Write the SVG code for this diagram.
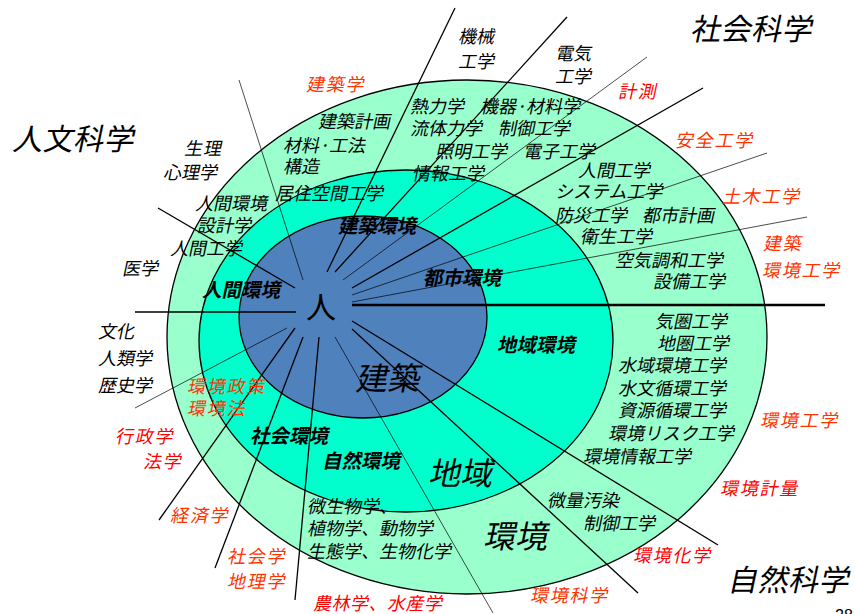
<svg xmlns="http://www.w3.org/2000/svg" width="855" height="614" viewBox="0 0 855 614">
<style>
text{font-family:"Noto Sans CJK JP","Noto Sans CJK SC",sans-serif;font-size:18px;fill:#000}
.r{fill:#FF0000;letter-spacing:1.8px}
.o{fill:#FF3300;letter-spacing:1.8px}
.b{font-weight:bold;font-size:19.5px}
.big{font-size:32px}
.huge{font-size:30px;letter-spacing:0.5px}
.ring{stroke:#000;stroke-width:1.3}
.l{stroke:#000;stroke-width:1.3;fill:none}
.th{stroke:#000;stroke-width:0.7;fill:none}
.k{stroke:#000;stroke-width:2.6;fill:none}
</style>
<rect width="855" height="614" fill="#fff"/>
<g id="ring-outer"><ellipse class="ring" cx="467" cy="337" rx="300" ry="257" fill="#99FFCC"/></g>
<g id="ring-middle"><ellipse class="ring" cx="406" cy="341" rx="207" ry="171" fill="#00FFCC"/></g>
<g id="ring-inner"><ellipse class="ring" cx="363" cy="317" rx="124" ry="101" fill="#4F81BD"/></g>
<g id="connectors">
<line class="th" x1="303" y1="280" x2="239" y2="80"/>
<line class="l" x1="295" y1="288" x2="158" y2="208"/>
<line class="l" x1="327" y1="272" x2="455" y2="8"/>
<line class="l" x1="335" y1="272" x2="567" y2="17"/>
<line class="th" x1="343" y1="280" x2="647" y2="57"/>
<line class="l" x1="352" y1="288" x2="703" y2="88"/>
<line class="th" x1="352" y1="295" x2="767" y2="153"/>
<line class="th" x1="352" y1="302" x2="807" y2="217"/>
<line class="k" x1="352" y1="305" x2="825" y2="305"/>
<line class="l" x1="296" y1="312" x2="135" y2="312"/>
<line class="th" x1="287" y1="328" x2="135" y2="408"/>
<line class="l" x1="295" y1="328" x2="159" y2="520"/>
<line class="l" x1="303" y1="337" x2="215" y2="568"/>
<line class="l" x1="319" y1="337" x2="295" y2="600"/>
<line class="th" x1="335" y1="337" x2="493" y2="613"/>
<line class="l" x1="352" y1="329" x2="638" y2="593"/>
<line class="l" x1="352" y1="321" x2="718" y2="545"/>
</g>
<g id="fields">
<text class="huge" transform="translate(12 150) skewX(-12)">人文科学</text>
<text class="huge" transform="translate(690 40) skewX(-12)">社会科学</text>
<text class="huge" transform="translate(727 591) skewX(-12)">自然科学</text>
<text x="835" y="621" style="font-family:'Liberation Sans',sans-serif;font-size:16px">28</text>
</g>
<g id="center">
<text x="306" y="318" style="font-size:30px">人</text>
<text class="big" transform="translate(355 390) skewX(-12)">建築</text>
<text class="big" transform="translate(428 485) skewX(-12)">地域</text>
<text class="big" transform="translate(483 548) skewX(-12)">環境</text>
</g>
<g id="environments">
<text class="b" transform="translate(338 233) skewX(-12)">建築環境</text>
<text class="b" transform="translate(423 285) skewX(-12)">都市環境</text>
<text class="b" transform="translate(202 297) skewX(-12)">人間環境</text>
<text class="b" transform="translate(497 352) skewX(-12)">地域環境</text>
<text class="b" transform="translate(250 443) skewX(-12)">社会環境</text>
<text class="b" transform="translate(322 468) skewX(-12)">自然環境</text>
</g>
<g id="humanities">
<text transform="translate(184 155) skewX(-12)" style="letter-spacing:1px">生理</text>
<text transform="translate(163 179) skewX(-12)">心理学</text>
<text transform="translate(195 210) skewX(-12)">人間環境</text>
<text transform="translate(197 232) skewX(-12)">設計学</text>
<text transform="translate(170 255) skewX(-12)">人間工学</text>
<text transform="translate(122 275) skewX(-12)">医学</text>
<text transform="translate(98 338) skewX(-12)">文化</text>
<text transform="translate(98 365) skewX(-12)">人類学</text>
<text transform="translate(98 392) skewX(-12)">歴史学</text>
</g>
<g id="architecture">
<text class="o" transform="translate(306 91) skewX(-12)">建築学</text>
<text transform="translate(318 128) skewX(-12)">建築計画</text>
<text transform="translate(283 152) skewX(-12)">材料·工法</text>
<text transform="translate(283 173) skewX(-12)">構造</text>
<text transform="translate(275 200) skewX(-12)">居住空間工学</text>
</g>
<g id="engineering">
<text transform="translate(458 43) skewX(-12)">機械</text>
<text transform="translate(458 68) skewX(-12)">工学</text>
<text transform="translate(555 60) skewX(-12)">電気</text>
<text transform="translate(555 83) skewX(-12)">工学</text>
<text transform="translate(410 113) skewX(-12)">熱力学</text>
<text transform="translate(480 113) skewX(-12)">機器·材料学</text>
<text transform="translate(410 135) skewX(-12)">流体力学</text>
<text transform="translate(498 135) skewX(-12)">制御工学</text>
<text transform="translate(435 158) skewX(-12)">照明工学</text>
<text transform="translate(523 158) skewX(-12)">電子工学</text>
<text transform="translate(412 180) skewX(-12)">情報工学</text>
<text class="r" transform="translate(618 98) skewX(-12)">計測</text>
<text class="o" transform="translate(675 147) skewX(-12)">安全工学</text>
<text class="o" transform="translate(722 203) skewX(-12)">土木工学</text>
<text class="o" transform="translate(763 250) skewX(-12)">建築</text>
<text class="o" transform="translate(762 277) skewX(-12)">環境工学</text>
</g>
<g id="urban">
<text transform="translate(578 177) skewX(-12)">人間工学</text>
<text transform="translate(555 198) skewX(-12)">システム工学</text>
<text transform="translate(555 222) skewX(-12)">防災工学</text>
<text transform="translate(642 222) skewX(-12)">都市計画</text>
<text transform="translate(580 243) skewX(-12)">衛生工学</text>
<text transform="translate(615 267) skewX(-12)">空気調和工学</text>
<text transform="translate(653 288) skewX(-12)">設備工学</text>
</g>
<g id="regional">
<text transform="translate(655 328) skewX(-12)">気圏工学</text>
<text transform="translate(657 350) skewX(-12)">地圏工学</text>
<text transform="translate(618 372) skewX(-12)">水域環境工学</text>
<text transform="translate(618 395) skewX(-12)">水文循環工学</text>
<text transform="translate(618 417) skewX(-12)">資源循環工学</text>
<text transform="translate(608 440) skewX(-12)">環境リスク工学</text>
<text transform="translate(583 463) skewX(-12)">環境情報工学</text>
<text class="o" transform="translate(760 427) skewX(-12)">環境工学</text>
<text class="r" transform="translate(720 495) skewX(-12)">環境計量</text>
<text transform="translate(547 507) skewX(-12)">微量汚染</text>
<text transform="translate(583 530) skewX(-12)">制御工学</text>
<text class="r" transform="translate(633 562) skewX(-12)">環境化学</text>
<text class="o" transform="translate(530 602) skewX(-12)">環境科学</text>
</g>
<g id="nature">
<text transform="translate(307 513) skewX(-12)">微生物学、</text>
<text transform="translate(307 535) skewX(-12)">植物学、動物学</text>
<text transform="translate(307 558) skewX(-12)">生態学、生物化学</text>
<text class="r" transform="translate(313 610) skewX(-12)" style="letter-spacing:0.5px">農林学、水産学</text>
</g>
<g id="society">
<text class="o" transform="translate(187 393) skewX(-12)">環境政策</text>
<text class="o" transform="translate(187 415) skewX(-12)">環境法</text>
<text class="r" transform="translate(115 443) skewX(-12)">行政学</text>
<text class="r" transform="translate(143 468) skewX(-12)">法学</text>
<text class="o" transform="translate(170 522) skewX(-12)">経済学</text>
<text class="o" transform="translate(227 563) skewX(-12)">社会学</text>
<text class="o" transform="translate(227 588) skewX(-12)">地理学</text>
</g>
</svg>
